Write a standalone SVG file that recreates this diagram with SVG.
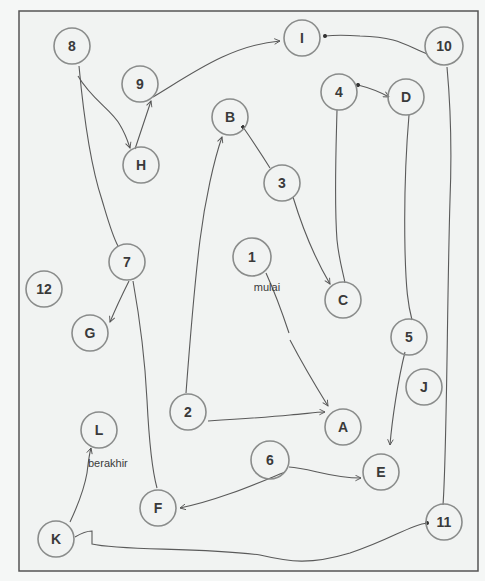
<svg xmlns="http://www.w3.org/2000/svg" width="485" height="581" viewBox="0 0 485 581">
<defs>
<marker id="arr" viewBox="0 0 10 10" refX="9" refY="5" markerWidth="7" markerHeight="7" orient="auto" markerUnits="userSpaceOnUse">
<path d="M1,1 L9,5 L1,9" fill="none" stroke="#555" stroke-width="1.3"/>
</marker>
<marker id="dot" viewBox="0 0 6 6" refX="3" refY="3" markerWidth="4" markerHeight="4" orient="auto" markerUnits="userSpaceOnUse">
<circle cx="3" cy="3" r="3" fill="#333"/>
</marker>
<style>
.n circle{fill:none;stroke:#8a8c8b;stroke-width:1.6}
.n text{font-family:"Liberation Sans",Arial,sans-serif;font-size:14px;font-weight:bold;fill:#3a3a3a;text-anchor:middle;dominant-baseline:central}
.e path{fill:none;stroke:#5a5a5a;stroke-width:1.1}
.lbl{font-family:"Liberation Sans",Arial,sans-serif;font-size:11px;fill:#3a3a3a}
</style>
</defs>
<rect x="0" y="0" width="485" height="581" fill="#f5f7f6"/>
<rect x="19" y="11" width="459" height="560" fill="#f1f3f2" stroke="#555" stroke-width="1.5"/>
<g id="connectors" class="e">
<path d="M78,76 C92,100 112,110 120,125 C126,135 128,142 130,148" marker-end="url(#arr)"/>
<path d="M79,66 C84,120 92,170 102,200 C108,220 112,235 118,246"/>
<path d="M135,149 L151,101" marker-end="url(#arr)"/>
<path d="M153,97 C190,75 230,45 280,41" marker-end="url(#arr)"/>
<path d="M427,54 C405,45 398,37 360,36 C345,35 335,35 325,36" marker-end="url(#dot)"/>
<path d="M443,505 C447,450 447,300 450,200 C452,150 450,100 447,67"/>
<path d="M358,85 C370,88 380,92 389,97" marker-start="url(#dot)" marker-end="url(#arr)"/>
<path d="M337,110 C336,150 334,200 337,240 C339,260 343,272 345,283"/>
<path d="M243,127 C252,140 262,155 270,168" marker-start="url(#dot)"/>
<path d="M293,197 C300,220 310,250 330,284" marker-end="url(#arr)"/>
<path d="M186,393 C190,340 195,280 200,240 C205,200 214,160 222,137" marker-end="url(#arr)"/>
<path d="M266,273 C276,295 283,315 289,333 M290,340 C303,365 315,385 328,406" marker-end="url(#arr)"/>
<path d="M208,421 C240,419 270,417 290,415 C305,414 315,412 325,412" marker-end="url(#arr)"/>
<path d="M409,115 C406,150 404,200 405,250 C406,290 408,305 412,320"/>
<path d="M405,352 C398,380 392,420 390,445" marker-end="url(#arr)"/>
<path d="M289,467 C310,468 330,478 361,478" marker-end="url(#arr)"/>
<path d="M285,472 C260,482 220,500 180,508" marker-end="url(#arr)"/>
<path d="M129,281 C122,295 115,310 110,322" marker-end="url(#arr)"/>
<path d="M133,281 C140,320 145,360 147,400 C149,440 152,470 157,488"/>
<path d="M70,522 C78,505 84,490 87,473 C88,465 89,455 91,448" marker-end="url(#arr)"/>
<path d="M75,537 C80,534 86,531 92,531 L92,544 C120,551 200,547 260,555 C290,562 310,565 350,553 C390,540 410,525 427,523" marker-end="url(#dot)"/>
</g>
<g id="n8" class="n"><circle cx="72" cy="46" r="18"/><text x="72" y="46">8</text></g>
<g id="n9" class="n"><circle cx="140" cy="84" r="18"/><text x="140" y="84">9</text></g>
<g id="nI" class="n"><circle cx="302" cy="38" r="18"/><text x="302" y="38">I</text></g>
<g id="n10" class="n"><circle cx="444" cy="46" r="19"/><text x="444" y="46">10</text></g>
<g id="n4" class="n"><circle cx="339" cy="92" r="18"/><text x="339" y="92">4</text></g>
<g id="nD" class="n"><circle cx="406" cy="97" r="18"/><text x="406" y="97">D</text></g>
<g id="nB" class="n"><circle cx="230" cy="117" r="18"/><text x="230" y="117">B</text></g>
<g id="nH" class="n"><circle cx="141" cy="165" r="18"/><text x="141" y="165">H</text></g>
<g id="n3" class="n"><circle cx="282" cy="183" r="18"/><text x="282" y="183">3</text></g>
<g id="n7" class="n"><circle cx="127" cy="262" r="18"/><text x="127" y="262">7</text></g>
<g id="n1" class="n"><circle cx="252" cy="257" r="19"/><text x="252" y="257">1</text></g>
<g id="nC" class="n"><circle cx="343" cy="300" r="18"/><text x="343" y="300">C</text></g>
<g id="n12" class="n"><circle cx="44" cy="289" r="18"/><text x="44" y="289">12</text></g>
<g id="nG" class="n"><circle cx="90" cy="333" r="18"/><text x="90" y="333">G</text></g>
<g id="n5" class="n"><circle cx="409" cy="337" r="18"/><text x="409" y="337">5</text></g>
<g id="nJ" class="n"><circle cx="424" cy="387" r="18"/><text x="424" y="387">J</text></g>
<g id="n2" class="n"><circle cx="188" cy="412" r="18"/><text x="188" y="412">2</text></g>
<g id="nA" class="n"><circle cx="343" cy="427" r="18"/><text x="343" y="427">A</text></g>
<g id="nL" class="n"><circle cx="99" cy="430" r="18"/><text x="99" y="430">L</text></g>
<g id="n6" class="n"><circle cx="270" cy="460" r="19"/><text x="270" y="460">6</text></g>
<g id="nE" class="n"><circle cx="381" cy="472" r="18"/><text x="381" y="472">E</text></g>
<g id="nF" class="n"><circle cx="158" cy="508" r="18"/><text x="158" y="508">F</text></g>
<g id="n11" class="n"><circle cx="444" cy="522" r="18"/><text x="444" y="522">11</text></g>
<g id="nK" class="n"><circle cx="56" cy="539" r="18"/><text x="56" y="539">K</text></g>
<text class="lbl" x="267" y="291" text-anchor="middle">mulai</text>
<text class="lbl" x="88" y="467">berakhir</text>
</svg>
